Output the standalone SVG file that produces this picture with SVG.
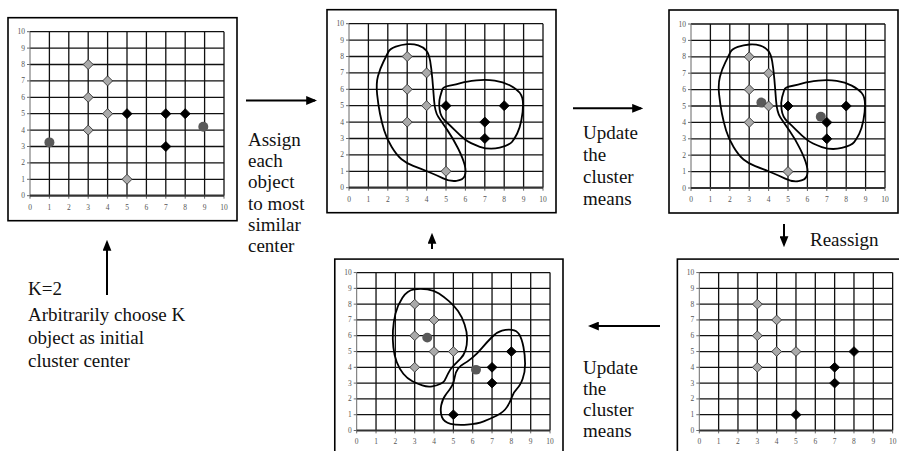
<svg xmlns="http://www.w3.org/2000/svg" xmlns:xlink="http://www.w3.org/1999/xlink" width="899" height="451" viewBox="0 0 899 451">
<style>
.frame{fill:#fff;stroke:#000;stroke-width:1.6}
.grid{stroke:#111;stroke-width:1.3;fill:none}
.yaxis{stroke:#666;stroke-width:1;fill:none}
.xaxis{stroke:#333;stroke-width:2.2;fill:none}
.tick{font-family:"Liberation Serif",serif;font-size:7.5px;fill:#555}
.dg{fill:#aaa;stroke:#333;stroke-width:0.9}
.db{fill:#000;stroke:#000;stroke-width:0.9}
.ctr{fill:#595959}
.blob{fill:none;stroke:#000;stroke-width:1.8;vector-effect:non-scaling-stroke;stroke-linejoin:round}
.lbl{font-family:"Liberation Serif",serif;font-size:19px;fill:#111}
.conn{stroke:#000;stroke-width:2;fill:none;marker-end:url(#ah)}
</style>
<defs>
<marker id="ah" markerUnits="userSpaceOnUse" markerWidth="11" markerHeight="9" refX="8" refY="4" orient="auto" viewBox="0 0 10 8"><path d="M0,0 L10,4 L0,8 Z" fill="#000"/></marker>
<path id="dg" class="dg" d="M0,-5 L5,0 L0,5 L-5,0Z"/>
<path id="db" class="db" d="M0,-5 L5,0 L0,5 L-5,0Z"/>
<circle id="cc" class="ctr" r="5"/>
<g id="chart">
<path class="grid" d="M19.4 0V-164M38.8 0V-164M58.2 0V-164M77.6 0V-164M97 0V-164M116.4 0V-164M135.8 0V-164M155.2 0V-164M174.6 0V-164M194 0V-164M0 -16.4H194M0 -32.8H194M0 -49.2H194M0 -65.6H194M0 -82H194M0 -98.4H194M0 -114.8H194M0 -131.2H194M0 -147.6H194M0 -164H194"/>
<path class="yaxis" d="M0 0V-164M-3 0H0M-3 -16.4H0M-3 -32.8H0M-3 -49.2H0M-3 -65.6H0M-3 -82H0M-3 -98.4H0M-3 -114.8H0M-3 -131.2H0M-3 -147.6H0M-3 -164H0M0 0V3M19.4 0V3M38.8 0V3M58.2 0V3M77.6 0V3M97 0V3M116.4 0V3M135.8 0V3M155.2 0V3M174.6 0V3M194 0V3"/>
<path class="xaxis" d="M0 0H194"/>
<g class="tick" text-anchor="end">
<text x="-5" y="2.5">0</text><text x="-5" y="-13.9">1</text><text x="-5" y="-30.3">2</text><text x="-5" y="-46.7">3</text><text x="-5" y="-63.1">4</text><text x="-5" y="-79.5">5</text><text x="-5" y="-95.9">6</text><text x="-5" y="-112.3">7</text><text x="-5" y="-128.7">8</text><text x="-5" y="-145.1">9</text><text x="-5" y="-161.5">10</text>
</g>
<g class="tick" text-anchor="middle">
<text x="0" y="14">0</text><text x="19.4" y="14">1</text><text x="38.8" y="14">2</text><text x="58.2" y="14">3</text><text x="77.6" y="14">4</text><text x="97" y="14">5</text><text x="116.4" y="14">6</text><text x="135.8" y="14">7</text><text x="155.2" y="14">8</text><text x="174.6" y="14">9</text><text x="194" y="14">10</text>
</g>
</g>
<g id="blobsA" transform="scale(19.4,-16.4)">
<path class="blob" d="M2.025,8.275 Q2.11,8.48 2.41,8.60 Q2.71,8.72 3.01,8.75 Q3.31,8.78 3.57,8.68 Q3.83,8.58 3.975,8.375 Q4.12,8.17 4.185,7.715 Q4.25,7.26 4.295,6.65 Q4.34,6.04 4.385,5.33 Q4.43,4.62 4.60,4.32 Q4.77,4.02 5.07,3.51 Q5.37,3.00 5.625,2.39 Q5.88,1.78 5.965,1.375 Q6.05,0.97 5.965,0.72 Q5.88,0.47 5.54,0.42 Q5.20,0.37 4.855,0.57 Q4.51,0.77 4.08,0.975 Q3.65,1.18 3.31,1.33 Q2.97,1.48 2.71,1.735 Q2.45,1.99 2.195,2.495 Q1.94,3.00 1.81,3.51 Q1.68,4.02 1.595,4.525 Q1.51,5.03 1.45,5.69 Q1.39,6.35 1.495,6.805 Q1.60,7.26 1.77,7.665 Q1.94,8.07 2.025,8.275 Z"/>
<path class="blob" d="M4.81,5.995 Q4.85,6.15 5.195,6.22 Q5.54,6.29 5.795,6.39 Q6.05,6.49 6.565,6.55 Q7.08,6.61 7.51,6.53 Q7.94,6.45 8.285,6.245 Q8.63,6.04 8.80,5.79 Q8.97,5.54 8.97,5.08 Q8.97,4.62 8.885,4.115 Q8.80,3.61 8.67,3.305 Q8.54,3.00 8.41,2.80 Q8.28,2.60 7.77,2.445 Q7.26,2.29 6.745,2.495 Q6.23,2.70 5.97,2.95 Q5.71,3.20 5.455,3.505 Q5.20,3.81 4.96,4.065 Q4.72,4.32 4.67,4.775 Q4.62,5.23 4.695,5.535 Q4.77,5.84 4.81,5.995 Z"/>
</g>
</defs>
<rect x="0" y="0" width="899" height="451" fill="#fff"/>

<g id="panel1" transform="translate(30,195.7)">
<rect class="frame" x="-22" y="-178" width="229" height="203"/>
<use href="#chart"/>
<use href="#cc" x="19.4" y="-53.3"/><use href="#cc" x="173.3" y="-69"/>
<use href="#dg" x="58.2" y="-131.2"/><use href="#dg" x="77.6" y="-114.8"/><use href="#dg" x="58.2" y="-98.4"/><use href="#dg" x="77.6" y="-82"/><use href="#dg" x="58.2" y="-65.6"/><use href="#dg" x="97" y="-16.4"/>
<use href="#db" x="97" y="-82"/><use href="#db" x="135.8" y="-82"/><use href="#db" x="155.2" y="-82"/><use href="#db" x="135.8" y="-49.2"/>
</g>

<g id="panel2" transform="translate(349,187.7)">
<rect class="frame" x="-22" y="-178" width="229" height="203"/>
<use href="#chart"/>
<use href="#dg" x="58.2" y="-131.2"/><use href="#dg" x="77.6" y="-114.8"/><use href="#dg" x="58.2" y="-98.4"/><use href="#dg" x="77.6" y="-82"/><use href="#dg" x="58.2" y="-65.6"/><use href="#dg" x="97" y="-16.4"/>
<use href="#db" x="97" y="-82"/><use href="#db" x="155.2" y="-82"/><use href="#db" x="135.8" y="-65.6"/><use href="#db" x="135.8" y="-49.2"/>
<use href="#blobsA"/>
</g>

<g id="panel3" transform="translate(691,188)">
<rect class="frame" x="-22" y="-178" width="229" height="203"/>
<use href="#chart"/>
<use href="#cc" x="70.4" y="-85.4"/><use href="#cc" x="129.8" y="-71.2"/>
<use href="#dg" x="58.2" y="-131.2"/><use href="#dg" x="77.6" y="-114.8"/><use href="#dg" x="58.2" y="-98.4"/><use href="#dg" x="77.6" y="-82"/><use href="#dg" x="58.2" y="-65.6"/><use href="#dg" x="97" y="-16.4"/>
<use href="#db" x="97" y="-82"/><use href="#db" x="155.2" y="-82"/><use href="#db" x="135.8" y="-65.6"/><use href="#db" x="135.8" y="-49.2"/>
<use href="#blobsA"/>
</g>

<g id="panel4" transform="translate(356.7,430.5) scale(0.9966,0.963)">
<rect class="frame" x="-22" y="-178" width="229" height="203"/>
<use href="#chart"/>
<use href="#cc" x="70.8" y="-96.4"/><use href="#cc" x="119.7" y="-63.1"/>
<use href="#dg" x="58.2" y="-131.2"/><use href="#dg" x="77.6" y="-114.8"/><use href="#dg" x="58.2" y="-98.4"/><use href="#dg" x="77.6" y="-82"/><use href="#dg" x="97" y="-82"/><use href="#dg" x="58.2" y="-65.6"/>
<use href="#db" x="155.2" y="-82"/><use href="#db" x="135.8" y="-65.6"/><use href="#db" x="135.8" y="-49.2"/><use href="#db" x="97" y="-16.4"/>
<g transform="scale(19.4,-16.4)">
<path class="blob" d="M2.365,8.405 Q2.62,8.88 2.965,8.935 Q3.31,8.99 3.655,8.935 Q4.00,8.88 4.255,8.67 Q4.51,8.46 4.77,8.195 Q5.03,7.93 5.24,7.56 Q5.45,7.19 5.58,6.715 Q5.71,6.24 5.71,5.815 Q5.71,5.39 5.625,5.075 Q5.54,4.76 5.37,4.545 Q5.20,4.33 5.025,4.12 Q4.85,3.91 4.725,3.595 Q4.60,3.28 4.555,3.175 Q4.51,3.07 4.34,2.96 Q4.17,2.85 3.91,2.80 Q3.65,2.75 3.395,2.855 Q3.14,2.96 2.88,3.12 Q2.62,3.28 2.41,3.595 Q2.20,3.91 2.07,4.335 Q1.94,4.76 1.895,5.285 Q1.85,5.81 1.875,6.34 Q1.90,6.87 2.005,7.40 Q2.11,7.93 2.365,8.405 Z"/>
<path class="blob" d="M5.54,4.225 Q5.71,4.33 5.97,4.595 Q6.23,4.86 6.485,5.23 Q6.74,5.60 7.00,5.92 Q7.26,6.24 7.515,6.325 Q7.77,6.41 8.025,6.375 Q8.28,6.34 8.41,6.075 Q8.54,5.81 8.625,5.285 Q8.71,4.76 8.71,4.23 Q8.71,3.70 8.585,3.275 Q8.46,2.85 8.285,2.64 Q8.11,2.43 8.025,2.115 Q7.94,1.80 7.77,1.48 Q7.60,1.16 7.255,0.95 Q6.91,0.74 6.57,0.58 Q6.23,0.42 5.715,0.37 Q5.20,0.32 4.855,0.425 Q4.51,0.53 4.41,0.845 Q4.31,1.16 4.37,1.585 Q4.43,2.01 4.64,2.325 Q4.85,2.64 4.94,2.855 Q5.03,3.07 5.07,3.385 Q5.11,3.70 5.24,3.91 Q5.37,4.12 5.54,4.225 Z"/>
</g>
</g>

<g id="panel5" transform="translate(699.3,430.5) scale(0.9966,0.963)">
<rect class="frame" x="-22" y="-178" width="229" height="203"/>
<use href="#chart"/>
<use href="#dg" x="58.2" y="-131.2"/><use href="#dg" x="77.6" y="-114.8"/><use href="#dg" x="58.2" y="-98.4"/><use href="#dg" x="77.6" y="-82"/><use href="#dg" x="97" y="-82"/><use href="#dg" x="58.2" y="-65.6"/>
<use href="#db" x="155.2" y="-82"/><use href="#db" x="135.8" y="-65.6"/><use href="#db" x="135.8" y="-49.2"/><use href="#db" x="97" y="-16.4"/>
</g>

<g id="connectors">
<path class="conn" d="M246,100.5 H315"/>
<path class="conn" d="M573,108.3 H641"/>
<path class="conn" d="M784,224 V245"/>
<path class="conn" d="M660,326 H590"/>
<path class="conn" d="M432,249 V235"/>
<path class="conn" d="M107,295 V242"/>
</g>

<g id="labels" class="lbl">
<text x="248" y="146">Assign</text>
<text x="248" y="167.2">each</text>
<text x="248" y="188.4">object</text>
<text x="248" y="209.6">to most</text>
<text x="248" y="230.8">similar</text>
<text x="248" y="252">center</text>
<text x="583" y="139">Update</text>
<text x="583" y="161">the</text>
<text x="583" y="183">cluster</text>
<text x="583" y="205">means</text>
<text x="810" y="246">Reassign</text>
<text x="583" y="374">Update</text>
<text x="583" y="395">the</text>
<text x="583" y="416">cluster</text>
<text x="583" y="437">means</text>
<text x="28" y="295">K=2</text>
<text x="28" y="321">Arbitrarily choose K</text>
<text x="28" y="344">object as initial</text>
<text x="28" y="367">cluster center</text>
</g>
</svg>
